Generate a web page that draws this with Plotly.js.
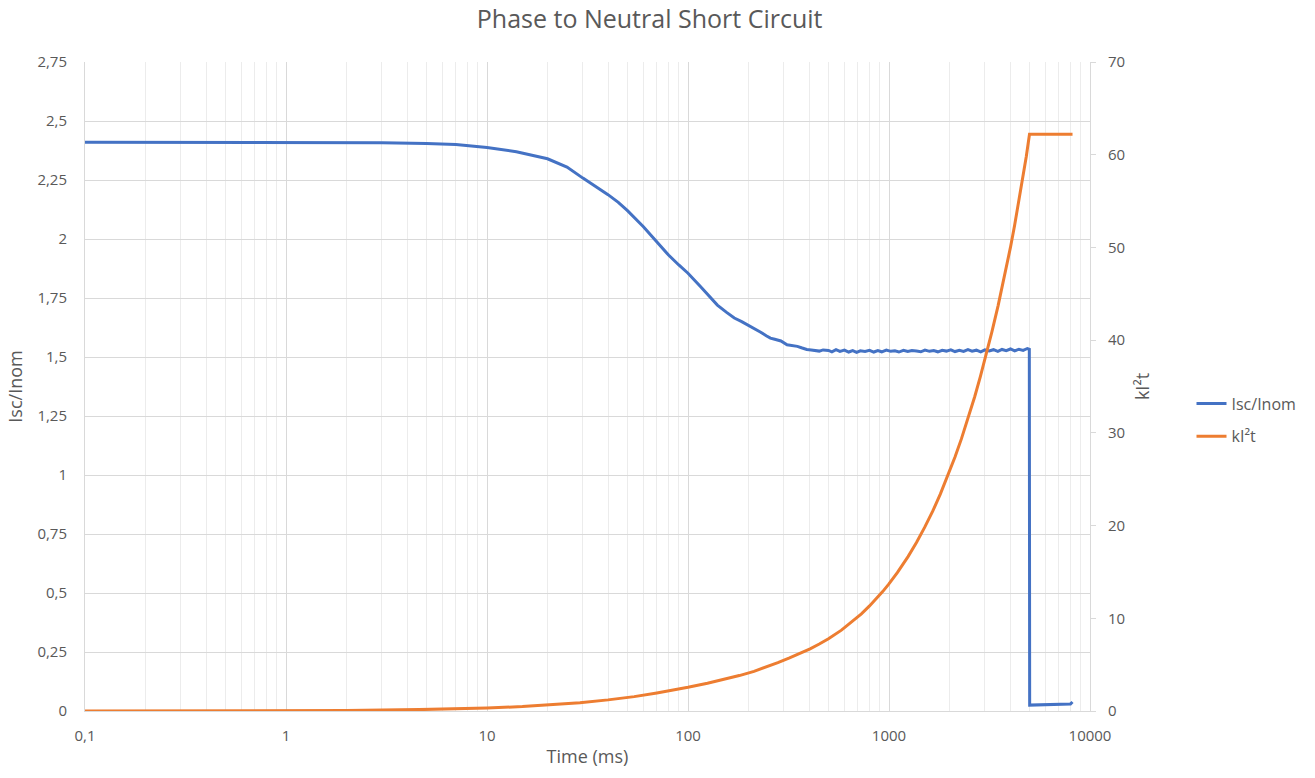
<!DOCTYPE html>
<html>
<head>
<meta charset="utf-8">
<script src="https://cdn.plot.ly/plotly-3.0.1.min.js"></script>
<style>html,body{margin:0;padding:0;background:#fff}#chart{width:1315px;height:778px}</style>
</head>
<body>
<div id="chart"></div>
<script>
// Isc/Inom series (time in ms)
const iscTime = [0.1, 0.2, 0.5, 1, 2, 3, 5, 7, 10, 14, 20, 25, 30, 35, 40, 45, 50, 60, 70, 80, 90, 100, 115, 125, 140, 155, 170, 185, 200, 215, 230, 245, 257, 270, 290, 311, 330, 350, 370, 390, 410, 430, 450, 470, 500,
  520, 545, 570, 600, 630, 660, 690, 720, 760, 800, 840, 880, 920, 970, 1020, 1070, 1120, 1180, 1240, 1300, 1370, 1440, 1510, 1590, 1670, 1750, 1840, 1930, 2030, 2130, 2240, 2350, 2470, 2590, 2720, 2860, 3000, 3150, 3310, 3480, 3650, 3830, 4020, 4220, 4430, 4650, 4880, 4990,
  5010, 6000, 7000, 8000, 8185];
const iscValue = [2.41, 2.41, 2.41, 2.41, 2.409, 2.408, 2.405, 2.40, 2.388, 2.37, 2.34, 2.305, 2.258, 2.222, 2.188, 2.155, 2.12, 2.052, 1.99, 1.932, 1.89, 1.855, 1.80, 1.765, 1.72, 1.69, 1.665, 1.65, 1.635, 1.62, 1.605, 1.59, 1.58, 1.575, 1.568, 1.552, 1.548, 1.545, 1.538, 1.532, 1.53, 1.528, 1.525, 1.53, 1.528,
  1.522, 1.531, 1.524, 1.529, 1.521, 1.527, 1.520, 1.526, 1.523, 1.528, 1.521, 1.527, 1.522, 1.529, 1.524, 1.526, 1.521, 1.528, 1.523, 1.527, 1.525, 1.522, 1.529, 1.524, 1.527, 1.522, 1.528, 1.525, 1.530, 1.523, 1.528, 1.524, 1.531, 1.525, 1.529, 1.522, 1.530, 1.526, 1.531, 1.524, 1.532, 1.527, 1.534, 1.526, 1.533, 1.528, 1.536, 1.533,
  0.025, 0.026, 0.027, 0.030, 0.038];

// kI²t series (time in ms)
const ki2tTime = [0.1, 0.5, 1, 2, 4.6, 7, 10, 15, 20, 29, 40, 54, 70, 85, 100, 125, 150, 180, 213, 245, 280, 320, 363, 405, 450, 500, 580, 650, 729, 800, 860, 930, 995, 1100, 1244, 1370, 1504, 1650, 1800, 1967, 2130, 2292, 2480, 2669, 2850, 3052, 3250, 3488, 3650, 3836, 4020, 4217, 4430, 4645, 4820, 5000, 8185];
const ki2tValue = [0, 0.013, 0.03, 0.06, 0.15, 0.22, 0.32, 0.48, 0.63, 0.9, 1.2, 1.55, 1.95, 2.25, 2.56, 3.0, 3.4, 3.82, 4.28, 4.73, 5.22, 5.72, 6.22, 6.7, 7.22, 7.8, 8.72, 9.55, 10.48, 11.33, 12.05, 12.88, 13.65, 14.92, 16.65, 18.17, 19.8, 21.55, 23.4, 25.4, 27.4, 29.35, 31.6, 33.9, 36.1, 38.5, 40.9, 43.7, 45.6, 47.8, 50.0, 52.4, 55.0, 57.6, 59.8, 62.2, 62.2];

// Axis ticks
const xTickVals = [0.1, 1, 10, 100, 1000, 10000];
const xTickText = ["0,1", "1", "10", "100", "1000", "10000"];
const yTickVals = [0, 0.25, 0.5, 0.75, 1, 1.25, 1.5, 1.75, 2, 2.25, 2.5, 2.75];
const yTickText = ["0", "0,25", "0,5", "0,75", "1", "1,25", "1,5", "1,75", "2", "2,25", "2,5", "2,75"];
const y2TickVals = [0, 10, 20, 30, 40, 50, 60, 70];

const FONT = "Open Sans, Liberation Sans, sans-serif";
const GREY = "#595959";

const traces = [
  {x: iscTime, y: iscValue, name: "Isc/Inom", type: "scatter", mode: "lines",
   line: {color: "#4472C4", width: 3}, yaxis: "y", legendgroup: "a"},
  {x: ki2tTime, y: ki2tValue, name: "kI²t", type: "scatter", mode: "lines",
   line: {color: "#ED7D31", width: 3}, yaxis: "y2", legendgroup: "b"}
];

const layout = {
  width: 1315, height: 778,
  margin: {l: 85, r: 225, t: 62, b: 67},
  paper_bgcolor: "#fff", plot_bgcolor: "#fff",
  font: {family: FONT, size: 15, color: GREY},
  title: {text: "Phase to Neutral Short Circuit", x: 0.494, xref: "container", y: 0.975, yanchor: "middle",
          font: {family: FONT, size: 25, color: GREY}},
  xaxis: {type: "log", range: [-1, 4], tickvals: xTickVals, ticktext: xTickText,
          showgrid: true, gridcolor: "#d9d9d9", gridwidth: 1,
          minor: {showgrid: true, dtick: "D1", gridcolor: "#ececec", gridwidth: 1, ticks: ""},
          showline: true, linecolor: "#d9d9d9", zeroline: false, ticks: "", ticklabelstandoff: 11,
          title: {text: "Time (ms)", font: {size: 18, color: GREY}, standoff: 6}},
  yaxis: {range: [0, 2.75], tickvals: yTickVals, ticktext: yTickText,
          showgrid: true, gridcolor: "#d9d9d9", gridwidth: 1, zeroline: false,
          showline: true, linecolor: "#d9d9d9", ticks: "", ticklabelstandoff: 14,
          title: {text: "Isc/Inom", font: {size: 18, color: GREY}, standoff: 10}},
  yaxis2: {range: [0, 70], tickvals: y2TickVals, overlaying: "y", side: "right",
           showgrid: false, zeroline: false, showline: true, linecolor: "#d9d9d9",
           ticks: "outside", ticklen: 5, tickcolor: "#d9d9d9", ticklabelstandoff: 9,
           title: {text: "kI²t", font: {size: 18, color: GREY}, standoff: 12}},
  showlegend: true,
  legend: {x: 1.101, xanchor: "left", y: 0.5, yanchor: "top", traceorder: "grouped", tracegroupgap: 9,
           font: {family: FONT, size: 16, color: GREY}, bgcolor: "rgba(0,0,0,0)"}
};

Plotly.newPlot("chart", traces, layout, {displayModeBar: false, staticPlot: true});
</script>
</body>
</html>
